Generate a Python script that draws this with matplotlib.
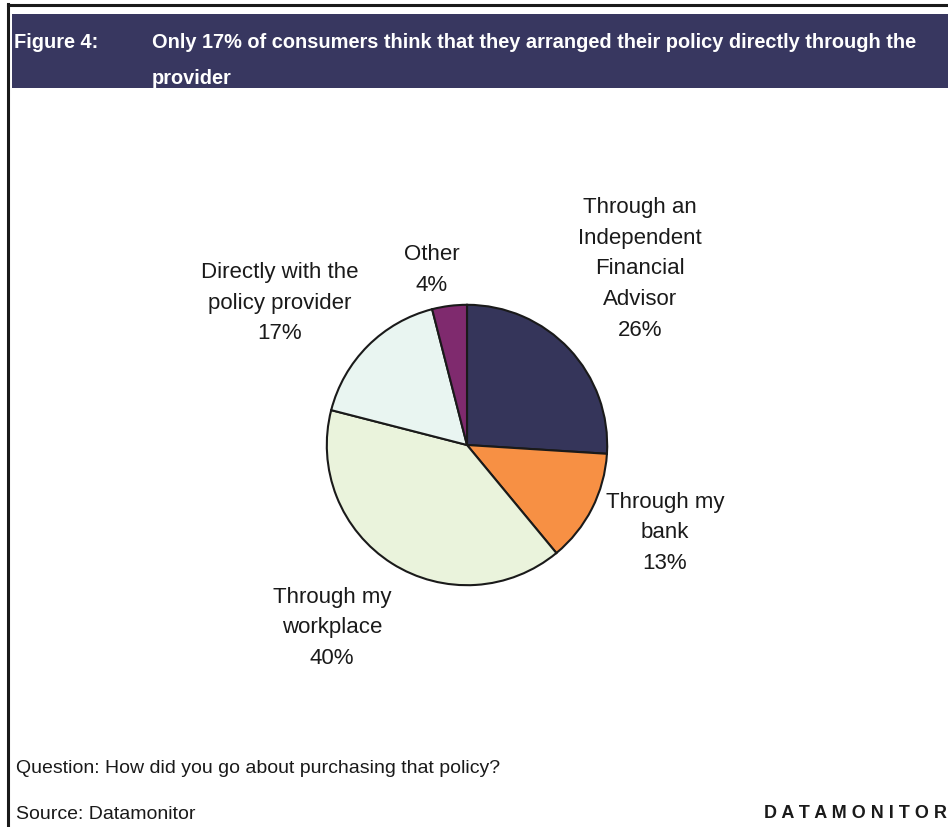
import matplotlib
matplotlib.use("Agg")
import matplotlib.pyplot as plt
from matplotlib.patches import Rectangle
from matplotlib.lines import Line2D

plt.rcParams['font.family'] = ['Liberation Sans', 'DejaVu Sans']

# Survey shares, clockwise from 12 o'clock
categories = ["Through an\nIndependent\nFinancial\nAdvisor",
              "Through my\nbank",
              "Through my\nworkplace",
              "Directly with the\npolicy provider",
              "Other"]
shares = [26, 13, 40, 17, 4]
colors = ["#35355a", "#f79044", "#eaf3dc", "#e9f5f1", "#7f2a6e"]

title_tag = "Figure 4:"
title_line1 = "Only 17% of consumers think that they arranged their policy directly through the"
title_line2 = "provider"
question = "Question: How did you go about purchasing that policy?"
source = "Source: Datamonitor"
brand = "D A T A M O N I T O R"

W, H = 948, 828
fig = plt.figure(figsize=(W / 100, H / 100), dpi=100)


def fx(px):
    return px / W


def fy(py):
    return 1 - py / H


# Frame lines and header band
fig.add_artist(Line2D([fx(8), fx(8)], [fy(5), fy(828)], color="#1a1a1a", lw=2.2))
fig.add_artist(Line2D([fx(8), fx(948)], [fy(6), fy(6)], color="#1a1a1a", lw=2.2))
fig.add_artist(Rectangle((fx(12), fy(89)), fx(948) - fx(12), fy(15) - fy(89),
                         facecolor="#383760", edgecolor="none"))

title_kw = dict(color="white", fontsize=14.4, fontweight="bold", va="center", ha="left")
fig.text(fx(14), fy(43), title_tag, **title_kw)
fig.text(fx(152), fy(43), title_line1, **title_kw)
fig.text(fx(152), fy(78), title_line2, **title_kw)

# Pie
cx, cy, r = 467, 446, 143
ax = fig.add_axes([fx(cx - r), fy(cy + r), (2 * r) / W, (2 * r) / H])
ax.pie(shares, colors=colors, startangle=90, counterclock=False,
       radius=1.0, wedgeprops=dict(edgecolor="#1a1a1a", linewidth=1.5))
ax.set_xlim(-1.02, 1.02)
ax.set_ylim(-1.02, 1.02)
ax.set_aspect("equal")
ax.axis("off")

# Slice labels
label_pos = [(640, 269), (665, 533), (332, 628), (280, 303), (432, 270)]
for cat, val, (px, py) in zip(categories, shares, label_pos):
    fig.text(fx(px), fy(py), f"{cat}\n{val}%", ha="center", va="center",
             fontsize=16, color="#1a1a1a", linespacing=1.62)

# Footer
fig.text(fx(16), fy(769), question, fontsize=14, color="#1a1a1a", va="center")
fig.text(fx(16), fy(815), source, fontsize=14, color="#1a1a1a", va="center")
fig.text(fx(947), fy(814), brand, fontsize=13, fontweight="bold",
         color="#1a1a1a", va="center", ha="right")

fig.savefig("out.png", dpi=100)
